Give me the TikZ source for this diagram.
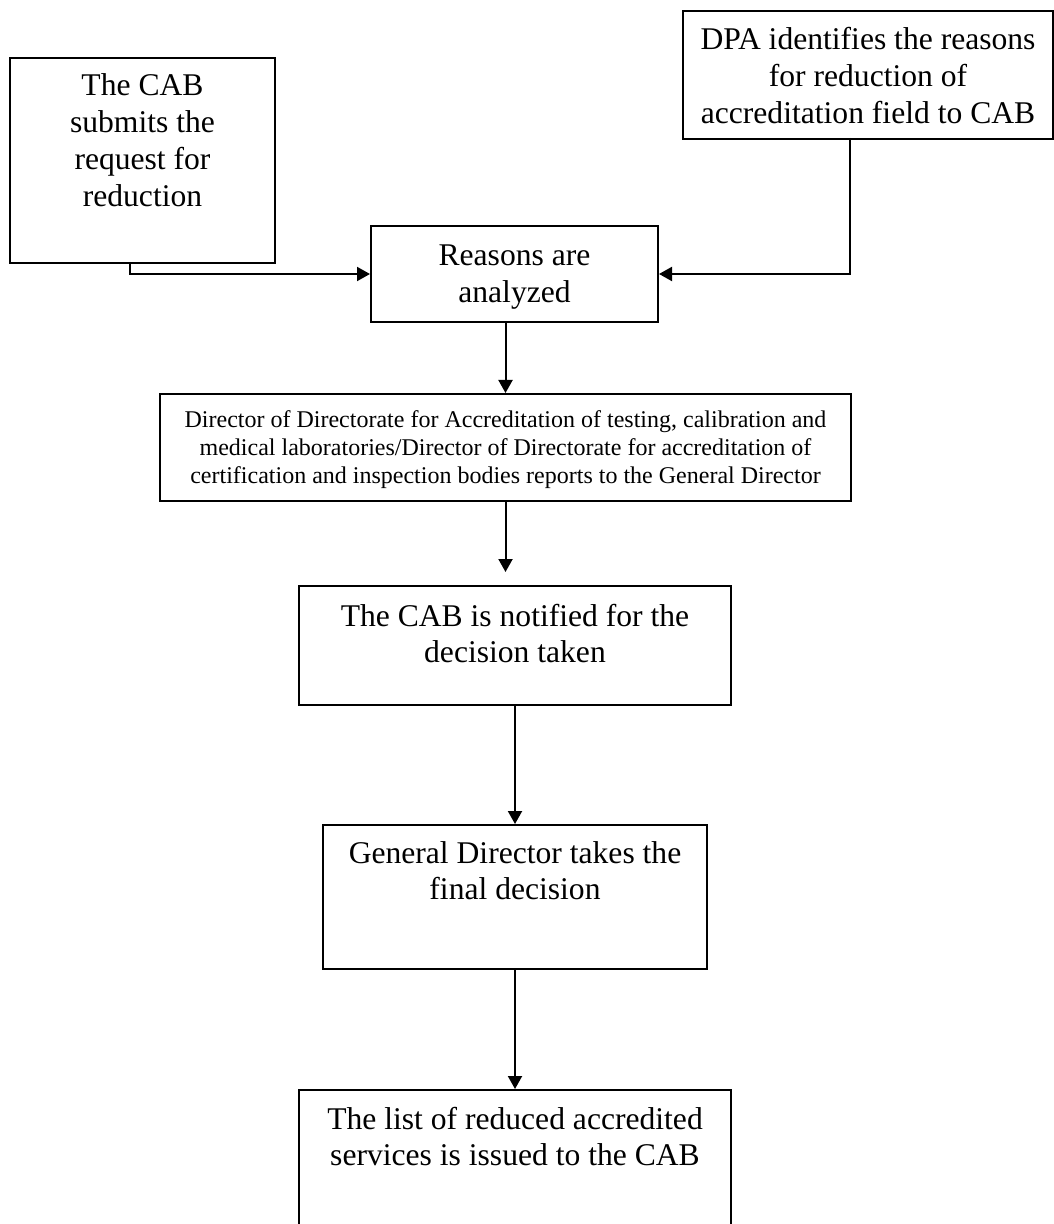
\documentclass[tikz,border=0pt]{standalone}
\usepackage{fontspec}
\setmainfont{Liberation Serif}
\usetikzlibrary{arrows.meta,calc}
\newcommand{\bxtext}[4]{\parbox[t][#2][t]{#1}{\centering\rule{0pt}{#3}#4\par}}
\tikzset{
  box/.style={draw, line width=1pt, inner sep=0pt, anchor=north west},
  big/.style={font=\fontsize{15.8pt}{18.4pt}\selectfont},
  small/.style={font=\fontsize{12pt}{13.8pt}\selectfont},
  arr/.style={line width=1pt, -{Triangle[length=6.5pt,width=7pt]}}
}
\begin{document}
\begin{tikzpicture}[x=0.5pt,y=-0.5pt]
\useasboundingbox[fill=white] (0,0) rectangle (1053,1224);
\node[box,big] (cab) at (9,57) {\bxtext{132.5pt}{102.5pt}{19pt}{The CAB\\submits the\\request for\\reduction}};
\node[box,big] (dpa) at (682,10) {\bxtext{185pt}{64pt}{19.5pt}{DPA identifies the reasons\\for reduction of\\accreditation field to CAB}};
\node[box,big] (reasons) at (370,225) {\bxtext{143.5pt}{48pt}{20pt}{Reasons are\\analyzed}};
\node[box,small] (director) at (159,393) {\bxtext{345.5pt}{53.5pt}{17pt}{Director of Directorate for Accreditation of testing, calibration and\\medical laboratories/Director of Directorate for accreditation of\\certification and inspection bodies reports to the General Director}};
\node[box,big] (notified) at (298,585) {\bxtext{216pt}{59.5pt}{20pt}{The CAB is notified for the\\decision taken}};
\node[box,big] (gd) at (322,824) {\bxtext{192pt}{72pt}{19pt}{General Director takes the\\final decision}};
\node[box,big] (list) at (298,1089) {\bxtext{216pt}{90pt}{19.5pt}{The list of reduced accredited\\services is issued to the CAB}};
\coordinate (c1) at (130,262);
\coordinate (c2) at (850,138);
\draw[arr] (c1) |- (reasons.west);
\draw[arr] (c2) |- (reasons.east);
\draw[arr] (reasons.south -| director.north) -- (director.north);
\draw[arr, shorten >=6.5pt] (director.south) -- (director.south |- notified.north);
\draw[arr] (notified.south) -- (gd.north);
\draw[arr] (gd.south) -- (list.north);
\end{tikzpicture}
\end{document}
